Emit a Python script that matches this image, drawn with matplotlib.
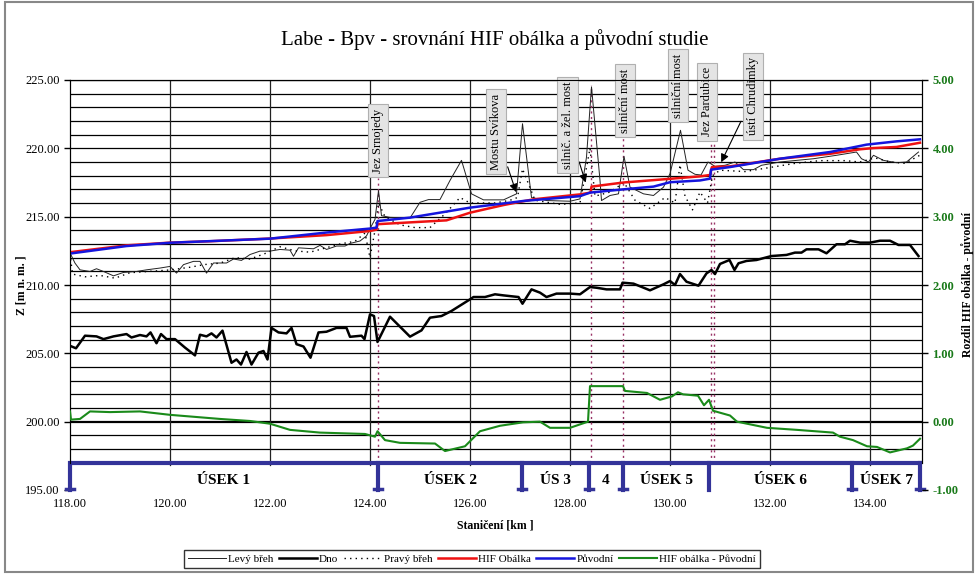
import numpy as np
import matplotlib
matplotlib.use('Agg')
import matplotlib.pyplot as plt
from matplotlib.patches import Rectangle

plt.rc('font', family=['Liberation Serif', 'DejaVu Serif'])

# ---------------------------------------------------------------- data
# Levý břeh
levy_km = [118.0, 118.1, 118.2, 118.4, 118.53, 118.67, 118.87, 119.07, 119.33, 119.53,
           119.8, 120.0, 120.13, 120.27, 120.47, 120.6, 120.73, 120.87, 121.13, 121.27,
           121.43, 121.6, 121.8, 122.0, 122.2, 122.4, 122.47, 122.57, 122.87, 123.0,
           123.13, 123.33, 123.5, 123.6, 123.8, 123.93, 124.03, 124.1, 124.17, 124.23,
           124.4, 124.8, 125.0, 125.17, 125.4, 125.6, 125.83, 126.03, 126.27, 126.67,
           126.93, 127.05, 127.23, 127.53, 128.0, 128.2, 128.33, 128.43, 128.6, 128.63,
           128.8, 128.97, 129.08, 129.2, 129.47, 129.67, 129.87, 130.0, 130.21, 130.36,
           130.5, 130.62, 130.76, 130.9, 131.1, 131.3, 131.47, 131.67, 131.83, 132.2,
           132.87, 133.33, 133.73, 133.83, 133.97, 134.07, 134.27, 134.53, 134.73, 134.97]
levy_z = [212.35, 211.6, 211.11, 210.99, 211.19, 210.99, 210.67, 210.92, 210.99, 211.11,
          211.24, 211.36, 210.87, 211.49, 211.73, 211.73, 210.87, 211.61, 211.61, 211.9,
          211.8, 212.23, 212.48, 212.48, 212.6, 212.55, 212.1, 212.72, 212.65, 212.9,
          212.6, 212.85, 212.85, 213.04, 213.22, 213.59, 214.33, 214.8, 216.9, 215.07,
          214.95, 214.9, 216.05, 216.25, 216.25, 217.65, 219.12, 216.67, 216.23, 216.23,
          216.67, 221.8, 216.4, 216.18, 216.13, 216.3, 219.36, 224.5, 217.65, 216.18,
          216.55, 216.67, 219.41, 217.16, 216.67, 216.55, 217.16, 218.14, 221.32, 218.4,
          218.1, 218.05, 219.0, 218.68, 218.76, 219.0, 218.44, 218.44, 218.76, 219.0,
          219.24, 219.49, 219.73, 219.24, 219.0, 219.49, 219.12, 218.95, 219.0, 219.73]

# Pravý břeh
pravy_km = [118.0, 118.05, 118.3, 118.6, 118.9, 119.2, 119.6, 120.0, 120.4, 120.7,
            121.0, 121.3, 121.6, 121.9, 122.2, 122.5, 122.8, 123.1, 123.4, 123.7,
            123.9, 124.0, 124.1, 124.17, 124.3, 124.6, 124.9, 125.2, 125.5, 125.8,
            126.0, 126.5, 126.8, 126.95, 127.05, 127.3, 127.8, 128.2, 128.4, 128.5,
            128.8, 129.08, 129.3, 129.6, 129.9, 130.1, 130.2, 130.3, 130.45, 130.6,
            130.75, 130.85, 131.0, 131.5, 132.0, 132.5, 133.0, 133.5, 133.8, 134.1,
            134.4, 134.7, 135.0]
pravy_z = [212.3, 210.8, 210.6, 210.7, 210.5, 210.9, 211.0, 211.1, 211.3, 211.5,
           211.6, 212.0, 211.9, 212.3, 212.8, 212.5, 212.4, 212.7, 213.0, 213.2,
           213.8, 212.0, 214.0, 216.0, 215.0, 214.4, 214.2, 214.2, 215.2, 216.4,
           216.0, 216.0, 216.2, 216.4, 218.5, 216.2, 215.9, 216.0, 220.0, 216.5,
           216.8, 217.5, 216.2, 215.6, 216.4, 216.0, 218.8, 216.5, 215.5, 216.8,
           216.0, 218.0, 218.4, 218.3, 218.6, 218.9, 219.1, 219.1, 219.0, 219.3,
           219.0, 218.9, 219.5]

# Dno
dno_km = [118.0, 118.12, 118.3, 118.53, 118.67, 118.87, 119.13, 119.23, 119.4, 119.53,
          119.61, 119.73, 119.82, 119.93, 120.1, 120.3, 120.5, 120.6, 120.73, 120.83,
          120.93, 121.05, 121.23, 121.33, 121.42, 121.53, 121.63, 121.77, 121.87, 121.95,
          122.03, 122.17, 122.33, 122.43, 122.53, 122.67, 122.81, 122.97, 123.13, 123.33,
          123.53, 123.6, 123.83, 123.89, 124.0, 124.08, 124.15, 124.4, 124.8, 125.03,
          125.2, 125.43, 125.63, 126.0, 126.07, 126.3, 126.5, 126.67, 126.97, 127.05,
          127.23, 127.4, 127.53, 127.73, 128.0, 128.2, 128.4, 128.53, 128.73, 129.0,
          129.05, 129.27, 129.6, 129.87, 130.0, 130.1, 130.2, 130.33, 130.57, 130.73,
          130.83, 130.9, 131.0, 131.19, 131.29, 131.37, 131.53, 131.73, 132.03, 132.33,
          132.5, 132.63, 132.73, 132.97, 133.13, 133.33, 133.5, 133.6, 133.8, 134.0,
          134.2, 134.4, 134.57, 134.8, 134.97]
dno_z = [205.55, 205.37, 206.29, 206.24, 206.04, 206.24, 206.41, 206.16, 206.34, 206.24,
         206.53, 205.74, 206.41, 206.04, 206.04, 205.42, 204.85, 206.36, 206.24, 206.46,
         206.16, 206.66, 204.31, 204.55, 204.18, 205.1, 204.18, 205.05, 205.17, 204.55,
         206.86, 206.53, 206.46, 206.86, 205.67, 205.5, 204.68, 206.53, 206.58, 206.86,
         206.86, 206.21, 206.29, 206.04, 207.85, 207.73, 205.83, 207.68, 206.22, 206.68,
         207.61, 207.73, 208.1, 208.95, 209.12, 209.12, 209.32, 209.24, 209.12, 208.63,
         209.68, 209.44, 209.12, 209.37, 209.37, 209.32, 209.85, 209.8, 209.68, 209.68,
         210.17, 210.1, 209.61, 210.05, 210.29, 210.0, 210.8, 210.24, 209.95, 210.85,
         211.1, 210.8, 211.54, 211.83, 211.1, 211.59, 211.76, 211.83, 212.12, 212.2,
         212.37, 212.37, 212.61, 212.61, 212.32, 212.98, 212.98, 213.24, 213.1, 213.1,
         213.24, 213.24, 212.93, 212.93, 212.12]

# HIF obálka
hif_km = [118.0, 119.13, 120.0, 120.8, 122.0, 123.13, 124.0, 124.13, 124.15, 125.53,
          126.0, 126.67, 127.27, 128.2, 128.41, 128.43, 129.07, 130.0, 130.6, 130.8,
          130.84, 131.2, 132.2, 133.2, 133.8, 134.07, 134.53, 135.0]
hif_z = [212.4, 212.9, 213.1, 213.2, 213.4, 213.65, 213.95, 214.05, 214.45, 214.73,
         215.29, 215.85, 216.27, 216.63, 216.76, 217.2, 217.5, 217.77, 217.95, 218.05,
         218.63, 218.68, 219.24, 219.6, 219.93, 220.02, 220.1, 220.41]

# Původní
puv_km = [118.0, 119.13, 120.0, 122.0, 123.13, 124.0, 124.13, 124.15, 124.8, 126.0,
          127.07, 128.2, 128.4, 129.07, 129.67, 130.0, 130.6, 130.8, 130.82, 131.2,
          132.2, 133.2, 133.93, 134.53, 135.0]
puv_z = [212.3, 212.85, 213.09, 213.39, 213.84, 214.13, 214.2, 214.68, 214.93, 215.66,
         216.15, 216.5, 216.76, 217.0, 217.2, 217.52, 217.65, 217.78, 218.44, 218.63,
         219.24, 219.73, 220.27, 220.51, 220.66]

# HIF obálka - Původní (pravá osa)
rozdil_km = [118.0, 118.02, 118.2, 118.4, 118.8, 119.4, 120.0, 121.0, 121.6, 122.0,
             122.4, 123.0, 123.9, 124.1, 124.15, 124.3, 124.6, 125.3, 125.5, 125.9,
             126.2, 126.6, 127.06, 127.4, 127.6, 128.0, 128.36, 128.4, 129.06, 129.1,
             129.54, 129.8, 130.04, 130.16, 130.26, 130.56, 130.68, 130.78, 130.86, 131.2,
             131.34, 131.94, 132.54, 133.26, 133.4, 133.66, 133.94, 134.14, 134.4, 134.74,
             134.86, 135.0]
rozdil = [0.15, 0.03, 0.04, 0.15, 0.14, 0.15, 0.10, 0.04, 0.01, -0.03,
          -0.12, -0.16, -0.18, -0.22, -0.14, -0.27, -0.31, -0.32, -0.43, -0.36,
          -0.14, -0.06, -0.01, 0.0, -0.09, -0.09, 0.0, 0.52, 0.52, 0.45,
          0.42, 0.32, 0.37, 0.43, 0.40, 0.38, 0.24, 0.32, 0.16, 0.09,
          0.0, -0.09, -0.12, -0.16, -0.22, -0.27, -0.36, -0.37, -0.45, -0.39,
          -0.35, -0.25]

# úseky
usek_hranice = [118.0, 124.16, 127.04, 128.37, 129.06, 130.78, 133.64, 135.0]
usek_popis = ['ÚSEK 1', 'ÚSEK 2', 'ÚS 3', '4', 'ÚSEK 5', 'ÚSEK 6', 'ÚSEK 7']

# objekty
objekty = ['Jez Srnojedy', 'Mostu Svíkova', 'silnič. a žel. most', 'silniční most',
           'silniční most', 'Jez Pardubice', 'ústí Chrudimky']
objekty_km = [124.16, 126.94, 128.33, 129.06, 130.16, 130.82, 131.0]
objekty_z = [None, 216.6, 217.3, None, None, None, 218.8]
profily_km = [124.16, 128.42, 129.06, 130.82, 130.88]


def main():

    fig = plt.figure(figsize=(9.78, 5.74), dpi=100)
    ax = fig.add_axes([70 / 978, 1 - 490 / 574, 852 / 978, 410 / 574])
    ax2 = ax.twinx()

    xmax = 135.04
    ax.set_xlim(118, xmax)
    ax.set_ylim(195, 225)
    ax2.set_ylim(-1, 5)

    # mřížka
    for y in range(197, 226):
        ax.plot([118, xmax], [y, y], color='black', lw=1.6 if y == 200 else 0.9, zorder=1)
    for x in range(120, 135, 2):
        ax.plot([x, x], [196.85, 225], color='#222222', lw=0.9, zorder=1)

    for a in (ax, ax2):
        a.spines['bottom'].set_visible(False)
        a.patch.set_visible(False)
    ax.spines['left'].set_bounds(197, 225)
    ax.spines['right'].set_bounds(197, 225)
    ax2.spines['left'].set_bounds(-0.6, 5)
    ax2.spines['right'].set_bounds(-0.6, 5)

    # profily (tečkované)
    tops = [217.8, 224.6, 220.8, 220.6, 220.6]
    for x, t in zip(profily_km, tops):
        ax.plot([x, x], [197, t], color='#993366', lw=1.0, ls=(0, (1.5, 2.5)), zorder=2)

    l_levy, = ax.plot(levy_km, levy_z, color='#222222', lw=0.7, zorder=3, label='Levý břeh')
    l_dno, = ax.plot(dno_km, dno_z, color='black', lw=1.8, zorder=3, label='Dno')
    l_pravy, = ax.plot(pravy_km, pravy_z, color='black', lw=1.0, ls=(0, (1, 3)), zorder=3,
                       label='Pravý břeh')
    l_hif, = ax.plot(hif_km, hif_z, color='#ee1111', lw=1.8, zorder=4, label='HIF Obálka')
    l_puv, = ax.plot(puv_km, puv_z, color='#1515dd', lw=1.8, zorder=5, label='Původní')
    l_roz, = ax2.plot(rozdil_km, rozdil, color='#1a8a1a', lw=1.5, zorder=5,
                      label='HIF obálka - Původní')

    # úseky
    modra = '#333399'
    ax.plot([118, xmax], [197, 197], color=modra, lw=3, zorder=6, solid_capstyle='butt')
    for i, x in enumerate(usek_hranice):
        x = min(x, xmax - 0.02)
        ax.plot([x, x], [197, 195], color=modra, lw=3, zorder=6, clip_on=False)
        if i != 5:
            ax.plot([x - 0.08, x + 0.08], [195.05, 195.05], color=modra, lw=2.5, zorder=6,
                    clip_on=False)
    for i, txt in enumerate(usek_popis):
        xc = (usek_hranice[i] + usek_hranice[i + 1]) / 2
        ax.text(xc, 195.7, txt, ha='center', va='center', fontsize=11, fontweight='bold',
                zorder=7)

    # popisky objektů
    boxy = [(124.16, 220.55), (126.52, 221.2), (127.95, 221.7), (129.1, 223.5),
            (130.16, 224.6), (130.74, 223.4), (131.66, 223.8)]
    for txt, (bx, by), px, pz in zip(objekty, boxy, objekty_km, objekty_z):
        bb = dict(boxstyle='square,pad=0.35', fc='#e4e4e4', ec='#b0b0b0', lw=0.8)
        if pz is None:
            ax.text(bx, by, txt, rotation=90, ha='center', va='center', fontsize=9,
                    bbox=bb, zorder=8)
        else:
            ax.annotate(txt, xy=(px, pz), xytext=(bx, by), rotation=90, ha='center',
                        va='center', fontsize=9, bbox=bb, zorder=8,
                        arrowprops=dict(arrowstyle='-|>', color='black', lw=0.8,
                                        mutation_scale=12))

    # osy
    ax.set_yticks(range(195, 226, 5))
    ax.set_yticklabels(['%.2f' % v for v in range(195, 226, 5)], fontsize=9)
    ax.set_xticks(range(118, 135, 2))
    ax.set_xticklabels(['%.2f' % v for v in range(118, 135, 2)], fontsize=9)
    ax.tick_params(axis='x', length=0, pad=6)
    ax.tick_params(axis='y', length=4, direction='out', width=1)
    ax2.set_yticks(range(-1, 6))
    ax2.set_yticklabels(['%.2f' % v for v in range(-1, 6)], fontsize=9, fontweight='bold',
                        color='#1a7a1a')
    ax2.tick_params(axis='y', length=4, direction='out', width=1)

    fig.text(495 / 978, 1 - 40 / 574, 'Labe - Bpv - srovnání HIF obálka a původní studie',
             ha='center', va='center', fontsize=15)
    fig.text(21 / 978, 1 - 285 / 574, 'Z [m n. m. ]', rotation=90, ha='center', va='center',
             fontsize=8.5, fontweight='bold')
    fig.text(968 / 978, 1 - 285 / 574, 'Rozdíl HIF obálka - původní', rotation=90,
             ha='center', va='center', fontsize=8.5, fontweight='bold')
    fig.text(495 / 978, 1 - 525 / 574, 'Staničení [km ]', ha='center', va='center',
             fontsize=8.5, fontweight='bold')

    fig.legend(handles=[l_levy, l_dno, l_pravy, l_hif, l_puv, l_roz], loc='center',
               bbox_to_anchor=(472 / 978, 1 - 559 / 574), ncol=6, fontsize=8,
               frameon=True, fancybox=False, edgecolor='black', handlelength=3.4,
               handletextpad=0.2, columnspacing=0.5, borderpad=0.35)

    # rámeček grafu
    fig.patches.append(Rectangle((0.005, 0.003), 0.99, 0.994, transform=fig.transFigure,
                                 fill=False, ec='#888888', lw=1.5))

    fig.savefig('out.png', dpi=100, facecolor='white')


if __name__ == '__main__':
    main()
